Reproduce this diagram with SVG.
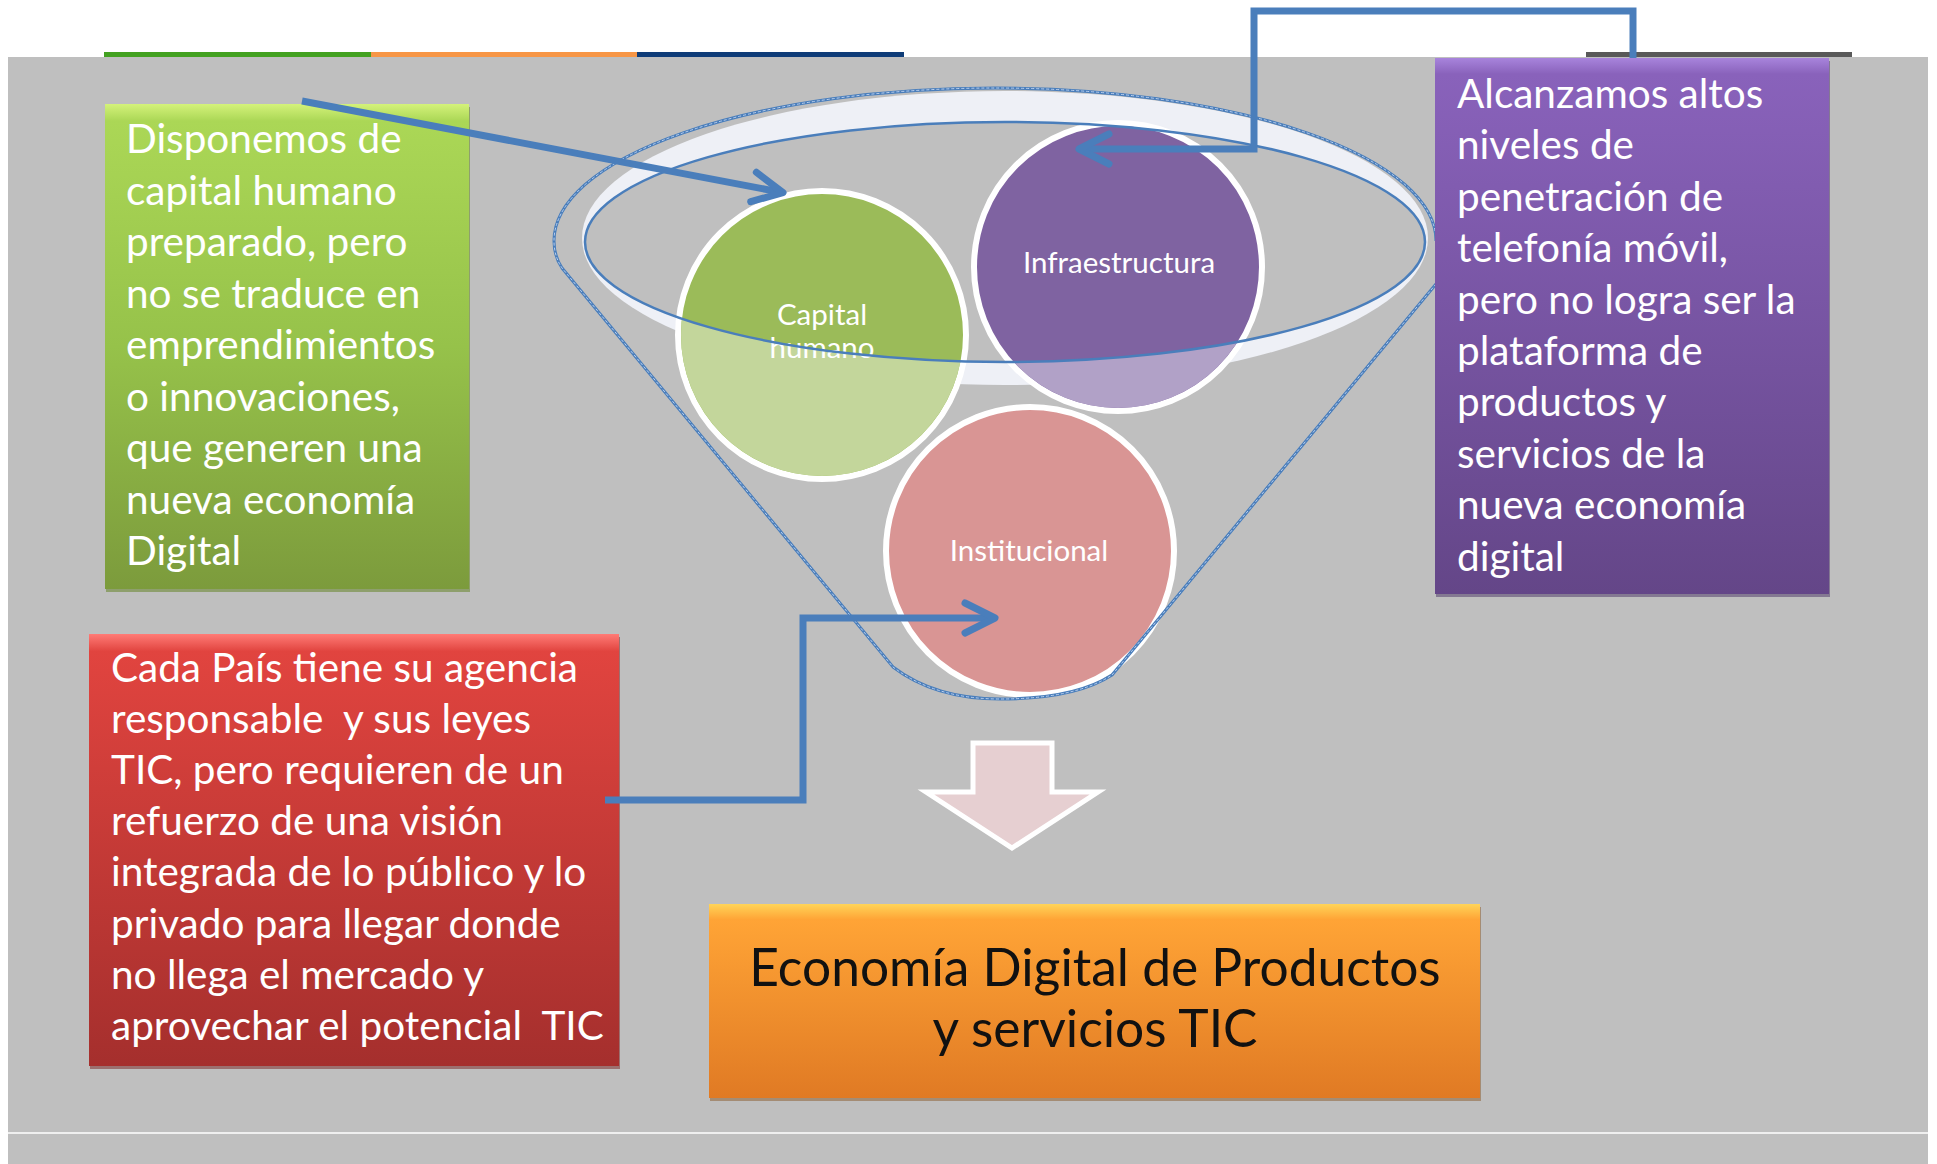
<svg xmlns="http://www.w3.org/2000/svg" width="1937" height="1164" viewBox="0 0 1937 1164">
<style>
.box{font-family:Lato,"Open Sans","Liberation Sans",sans-serif;font-size:40.5px;fill:#ffffff;white-space:pre}
.lbl{font-family:Lato,"Open Sans","Liberation Sans",sans-serif;font-size:29.5px;fill:#ffffff;text-anchor:middle}
.big{font-family:Lato,"Open Sans","Liberation Sans",sans-serif;font-size:51.5px;fill:#111111;text-anchor:middle}
.conn{fill:none;stroke:#4a7ebb;stroke-width:7;marker-end:url(#arr)}
.circ{stroke:#ffffff;stroke-width:6}
.fun{fill:none;stroke:#4a7ebb;stroke-width:3}
.funl{fill:none;stroke:#b9cfee;stroke-width:1;stroke-dasharray:3 2}
</style>
<defs>
<marker id="arr" markerUnits="userSpaceOnUse" viewBox="-36 -22 42 44" markerWidth="42" markerHeight="44" refX="0" refY="0" orient="auto">
<path d="M-30,-15 L0,0 L-30,15" fill="none" stroke="#4a7ebb" stroke-width="7" stroke-linecap="round" stroke-linejoin="round"/>
</marker>
<linearGradient id="gGreen" x1="0" y1="0" x2="0" y2="1">
<stop offset="0" stop-color="#d4f27a"/><stop offset="0.035" stop-color="#abd756"/><stop offset="0.5" stop-color="#96c24a"/><stop offset="1" stop-color="#7c9b3c"/>
</linearGradient>
<linearGradient id="gPurple" x1="0" y1="0" x2="0" y2="1">
<stop offset="0" stop-color="#a884dc"/><stop offset="0.03" stop-color="#8962bb"/><stop offset="1" stop-color="#644688"/>
</linearGradient>
<linearGradient id="gRed" x1="0" y1="0" x2="0" y2="1">
<stop offset="0" stop-color="#ff7b76"/><stop offset="0.04" stop-color="#e1443f"/><stop offset="1" stop-color="#a52f2d"/>
</linearGradient>
<linearGradient id="gOrange" x1="0" y1="0" x2="0" y2="1">
<stop offset="0" stop-color="#ffd458"/><stop offset="0.08" stop-color="#ffa436"/><stop offset="1" stop-color="#e07a24"/>
</linearGradient>
<clipPath id="below">
<path d="M585,242 A420,120 0 0 0 1425,242 L1425,1164 L585,1164 Z"/>
</clipPath>
</defs>

<!-- background -->
<rect x="8" y="57" width="1920" height="1107" fill="#bfbfbf"/>
<line x1="8" y1="1133" x2="1928" y2="1133" stroke="#ffffff" stroke-width="1.5"/>
<rect x="104" y="52" width="267" height="5" fill="#43a121"/>
<rect x="371" y="52" width="266" height="5" fill="#f79646"/>
<rect x="637" y="52" width="267" height="5" fill="#0e3c78"/>
<rect x="1586" y="52" width="266" height="5" fill="#595959"/>

<!-- funnel rim -->
<g id="funnel-rim">
<ellipse cx="1005" cy="238" rx="423" ry="147" fill="#eef0f6"/>
<ellipse cx="1005" cy="242" rx="420" ry="120" fill="#bfbfbf"/>
</g>

<!-- circles -->
<g id="capital-humano">
<circle class="circ" cx="822" cy="335" r="144" fill="#9bbb59"/>
<circle cx="822" cy="335" r="141" fill="#c3d69b" clip-path="url(#below)"/>
<text class="lbl" x="822" y="325">Capital</text>
<text class="lbl" x="822" y="358">humano</text>
</g>
<g id="infraestructura">
<circle class="circ" cx="1118" cy="267" r="144" fill="#7f63a1"/>
<circle cx="1118" cy="267" r="141" fill="#b1a1c7" clip-path="url(#below)"/>
<text class="lbl" x="1119" y="273">Infraestructura</text>
</g>
<g id="institucional">
<circle class="circ" cx="1030" cy="551" r="144" fill="#d99594"/>
<text class="lbl" x="1029" y="561">Institucional</text>
</g>

<!-- funnel outline -->
<g id="funnel">
<ellipse cx="1005" cy="242" rx="420" ry="120" fill="none" stroke="#4a7ebb" stroke-width="2.5"/>
<path class="fun" d="M1436,241 A441,153 0 0 0 554,241 Q554,256 562,268 L893,667 Q935,699 1000,699 Q1075,699 1112,675 L1436,284"/>
<path class="funl" d="M1436,241 A441,153 0 0 0 554,241 Q554,256 562,268 L893,667 Q935,699 1000,699 Q1075,699 1112,675 L1436,284"/>
</g>

<!-- down arrow -->
<g id="down-arrow">
<path d="M973,743 H1052 V792 H1098 L1012,848 L926,792 H973 Z" fill="#e6cfd1" stroke="#ffffff" stroke-width="5" stroke-linejoin="miter"/>
</g>

<!-- boxes -->
<g id="box-green">
<rect x="106" y="107" width="364" height="485" fill="#6e8a36" opacity="0.6"/>
<rect x="105" y="104" width="364" height="485" fill="url(#gGreen)"/>
<text class="box" x="126" y="153">Disponemos de</text>
<text class="box" x="126" y="204.5">capital humano</text>
<text class="box" x="126" y="256">preparado, pero</text>
<text class="box" x="126" y="307.5">no se traduce en</text>
<text class="box" x="126" y="359">emprendimientos</text>
<text class="box" x="126" y="410.5">o innovaciones,</text>
<text class="box" x="126" y="462">que generen una</text>
<text class="box" x="126" y="513.5">nueva economía</text>
<text class="box" x="126" y="565">Digital</text>
</g>

<g id="box-purple">
<rect x="1436" y="61" width="394" height="536" fill="#4a3366" opacity="0.5"/>
<rect x="1435" y="58" width="394" height="536" fill="url(#gPurple)"/>
<text class="box" x="1457" y="108">Alcanzamos altos</text>
<text class="box" x="1457" y="159.4">niveles de</text>
<text class="box" x="1457" y="210.8">penetración de</text>
<text class="box" x="1457" y="262.2">telefonía móvil,</text>
<text class="box" x="1457" y="313.6">pero no logra ser la</text>
<text class="box" x="1457" y="365">plataforma de</text>
<text class="box" x="1457" y="416.4">productos y</text>
<text class="box" x="1457" y="467.8">servicios de la</text>
<text class="box" x="1457" y="519.2">nueva economía</text>
<text class="box" x="1457" y="570.6">digital</text>
</g>

<g id="box-red">
<rect x="90" y="637" width="530" height="432" fill="#7a2220" opacity="0.5"/>
<rect x="89" y="634" width="530" height="432" fill="url(#gRed)"/>
<text class="box" x="111" y="682">Cada País tiene su agencia</text>
<text class="box" x="111" y="733.1">responsable  y sus leyes</text>
<text class="box" x="111" y="784.2">TIC, pero requieren de un</text>
<text class="box" x="111" y="835.3">refuerzo de una visión</text>
<text class="box" x="111" y="886.4">integrada de lo público y lo</text>
<text class="box" x="111" y="937.5">privado para llegar donde</text>
<text class="box" x="111" y="988.6">no llega el mercado y</text>
<text class="box" x="111" y="1039.7">aprovechar el potencial  TIC</text>
</g>

<g id="box-orange">
<rect x="710" y="907" width="771" height="194" fill="#8a5a2a" opacity="0.5"/>
<rect x="709" y="904" width="771" height="194" fill="url(#gOrange)"/>
<text class="big" x="1095" y="986">Economía Digital de Productos</text>
<text class="big" x="1095" y="1047">y servicios TIC</text>
</g>

<!-- connectors -->
<g id="connectors">
<path class="conn" d="M302,101 L783,192.6"/>
<path class="conn" d="M1633,58 V11 H1254 V149 H1079"/>
<path class="conn" d="M605,800 H803 V618 H995"/>
</g>
</svg>
